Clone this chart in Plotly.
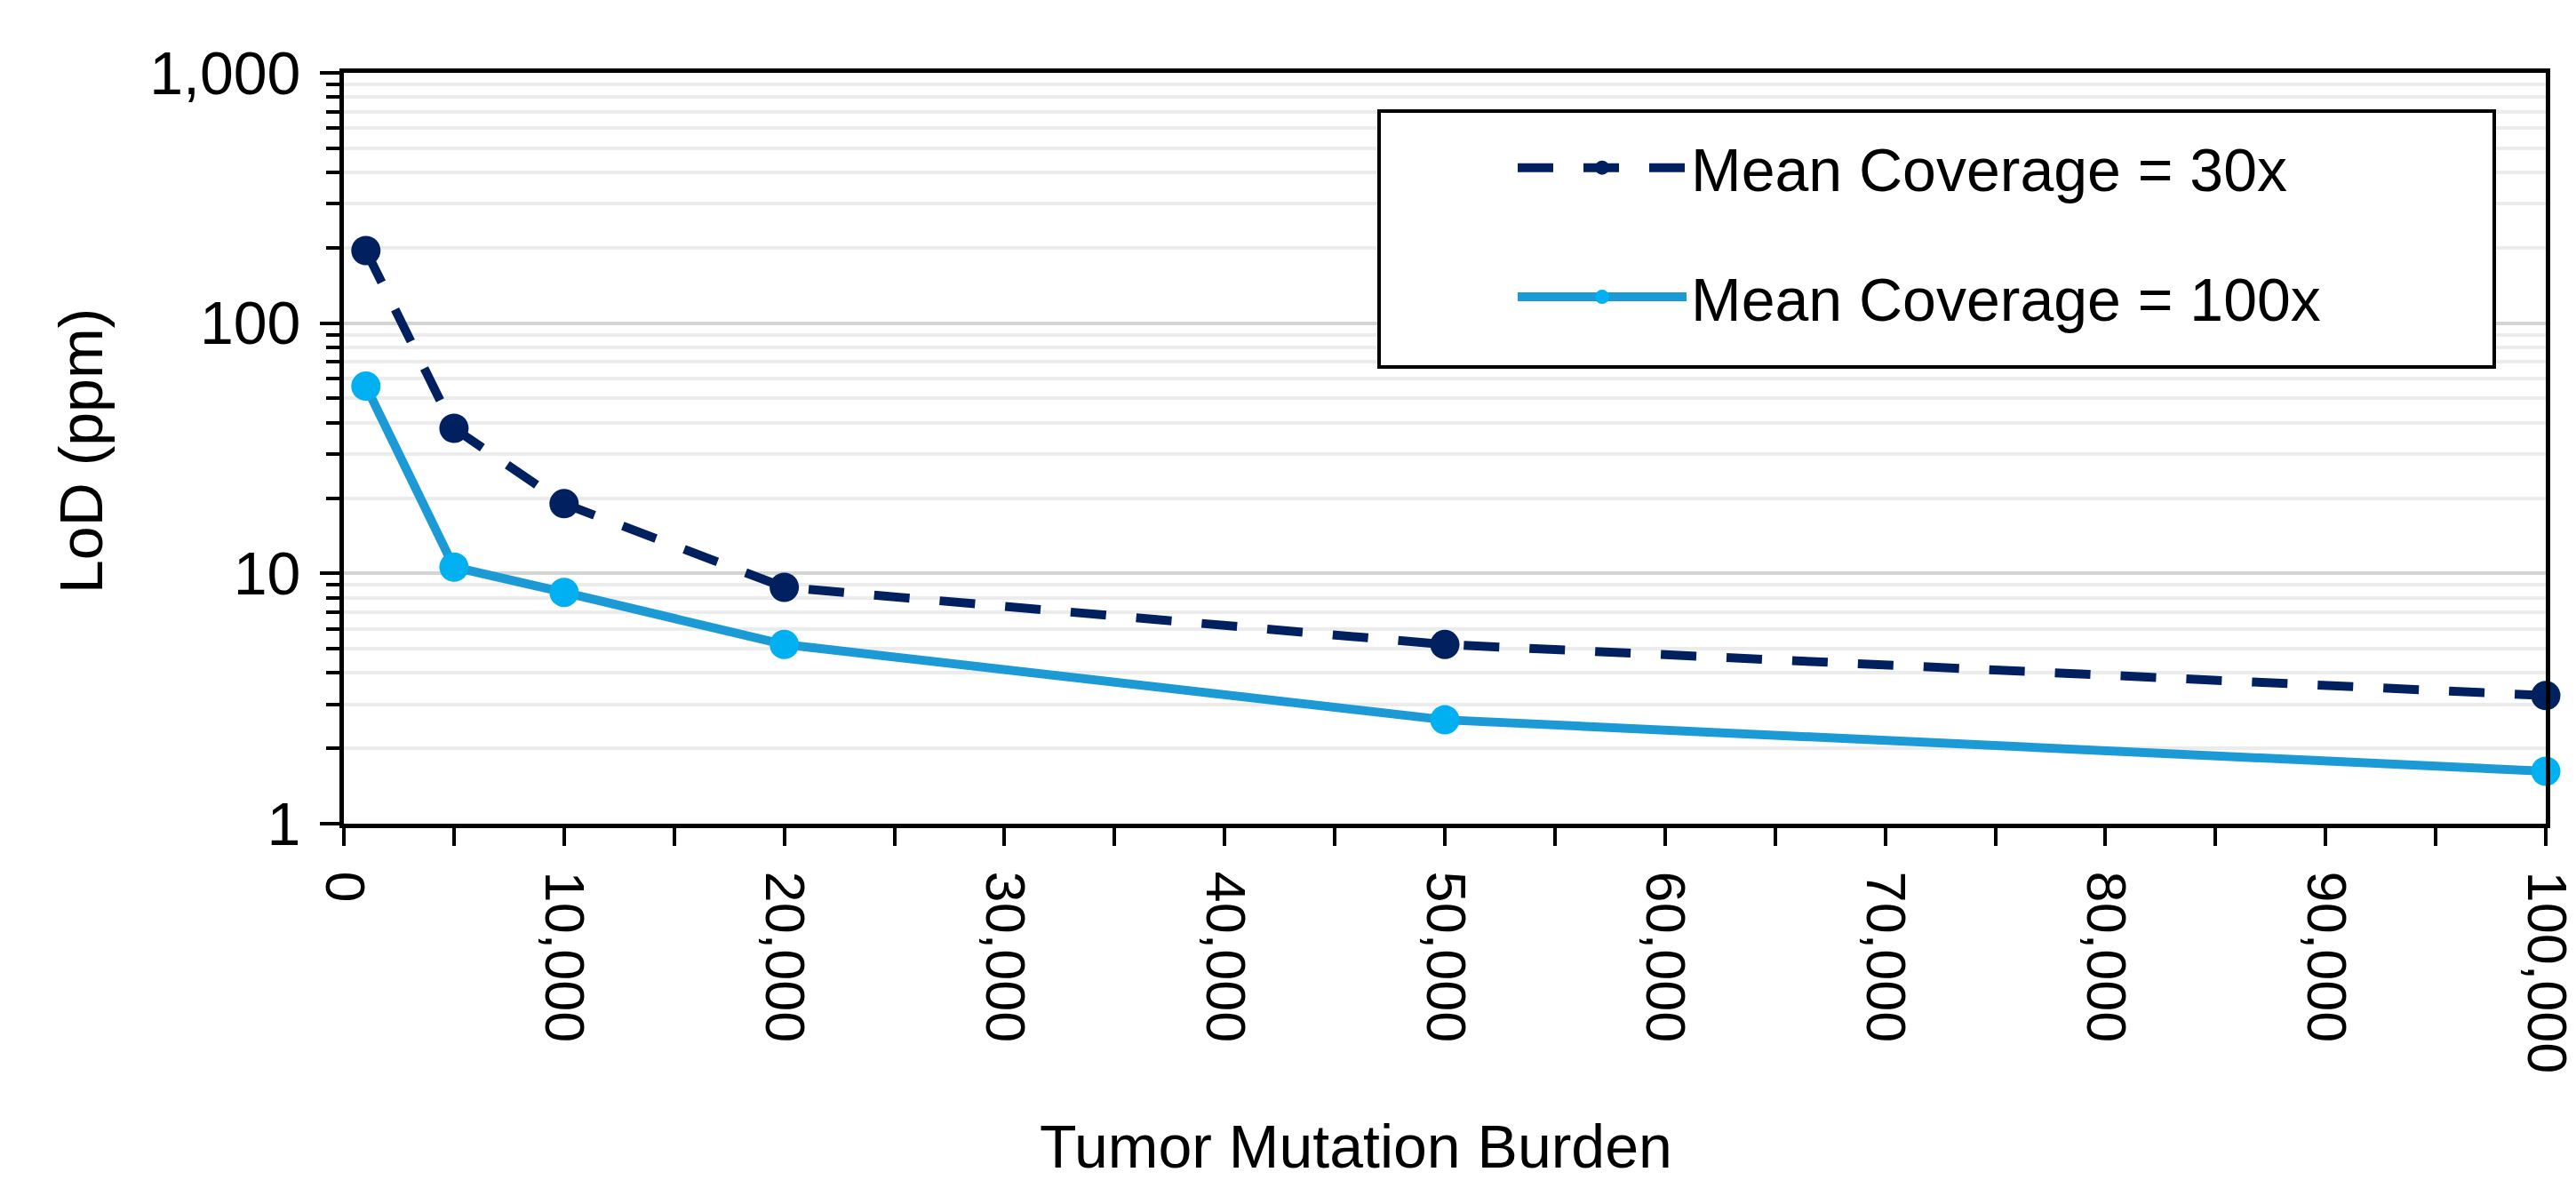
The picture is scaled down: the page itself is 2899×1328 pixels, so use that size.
import plotly.graph_objects as go

# ---- data ----
tmb = [1000, 5000, 10000, 20000, 50000, 100000]
lod_30x = [195, 38, 19, 8.8, 5.2, 3.25]
lod_100x = [56, 10.6, 8.4, 5.2, 2.6, 1.62]
series_names = ["Mean Coverage = 30x", "Mean Coverage = 100x"]
y_tick_vals = [1, 10, 100, 1000]
y_tick_text = ["1", "10", "100", "1,000"]
x_tick_vals = [0, 10000, 20000, 30000, 40000, 50000, 60000, 70000, 80000, 90000, 100000]
x_tick_text = ["0", "10,000", "20,000", "30,000", "40,000", "50,000",
               "60,000", "70,000", "80,000", "90,000", "100,000"]
x_title = "Tumor Mutation Burden"
y_title = "LoD (ppm)"

# ---- styling ----
W, H = 2899, 1328
L, R, T, B = 379, 2899 - 2857, 74, 1328 - 919
FONT = "Liberation Sans, Arial, sans-serif"
DARK = "#002060"
LIGHT_LINE = "#1C9AD6"
LIGHT_MARK = "#00B0F0"

minor_vals = [k * 10 ** d for d in range(0, 3) for k in range(2, 10)]

fig = go.Figure()
fig.add_trace(go.Scatter(
    x=tmb, y=lod_30x, name=series_names[0], mode="lines+markers",
    line=dict(color=DARK, width=10, dash="40px,34px"),
    marker=dict(color=DARK, size=33),
    cliponaxis=False, legendgroup="a",
))
fig.add_trace(go.Scatter(
    x=tmb, y=lod_100x, name=series_names[1], mode="lines+markers",
    line=dict(color=LIGHT_LINE, width=10),
    marker=dict(color=LIGHT_MARK, size=33),
    cliponaxis=False, legendgroup="b",
))

pw = W - L - R
ph = H - T - B


def px_x(v):
    return (v - L) / pw


def px_y(v):
    return (H - B - v) / ph


fig.update_layout(
    width=W, height=H,
    margin=dict(l=L, r=R, t=T, b=B, autoexpand=False),
    paper_bgcolor="white", plot_bgcolor="white",
    font=dict(family=FONT, size=66, color="black"),
    showlegend=True,
    legend=dict(
        x=px_x(1695), y=px_y(130), xanchor="left", yanchor="top",
        bgcolor="rgba(0,0,0,0)", borderwidth=0,
        font=dict(family=FONT, size=68, color="black"),
        itemwidth=190, traceorder="grouped", tracegroupgap=54,
    ),
    xaxis=dict(
        range=[0, 100000], showgrid=False, zeroline=False,
        tickmode="array", tickvals=x_tick_vals, ticktext=x_tick_text,
        tickangle=90, ticks="outside", ticklen=20, tickwidth=4, tickcolor="black",
        showline=True, linecolor="black", linewidth=5, mirror=True,
        tickfont=dict(family=FONT, size=63),
        ticklabelstandoff=16,
        minor=dict(dtick=5000, tick0=0, ticks="outside", ticklen=20, tickwidth=4,
                   tickcolor="black", showgrid=False),
    ),
    yaxis=dict(
        type="log", range=[0, 3], zeroline=False,
        tickmode="array", tickvals=y_tick_vals, ticktext=y_tick_text,
        ticks="outside", ticklen=22, tickwidth=4, tickcolor="black",
        showline=True, linecolor="black", linewidth=5, mirror=True,
        showgrid=True, gridcolor="#d4d4d4", gridwidth=4,
        tickfont=dict(family=FONT, size=68),
        ticklabelstandoff=8,
        minor=dict(tickmode="array", tickvals=minor_vals, ticks="outside",
                   ticklen=15, tickwidth=4, tickcolor="black",
                   showgrid=True, gridcolor="#ececec", gridwidth=4),
    ),
    shapes=[dict(
        type="rect", xref="paper", yref="paper",
        x0=px_x(1544), x1=px_x(2799), y0=px_y(405), y1=px_y(117),
        line=dict(color="black", width=4), fillcolor="white", layer="above",
    )],
    annotations=[
        dict(text=x_title, xref="paper", yref="paper",
             x=px_x(1518), y=px_y(1282), xanchor="center", yanchor="middle",
             showarrow=False, font=dict(family=FONT, size=68)),
        dict(text=y_title, xref="paper", yref="paper", textangle=-90,
             x=px_x(83), y=px_y(500), xanchor="center", yanchor="middle",
             showarrow=False, font=dict(family=FONT, size=68)),
    ],
)

fig.write_html("out.html")
